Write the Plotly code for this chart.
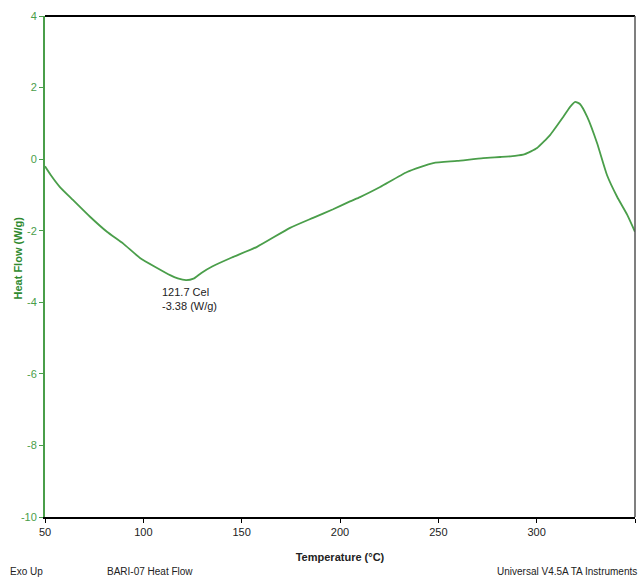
import plotly.graph_objects as go

# DSC heat-flow trace, BARI-07
temperature = [50, 53.0, 57.6, 64.2, 72.9, 81.5, 89.8, 98.3, 107.0, 113.6, 117.5, 121.7,
               125.5, 129.5, 135.0, 145.0, 157.8, 174.6, 186.3, 196.5, 205.1, 210.2, 220.4,
               234.1, 247.4, 259.5, 272.8, 281.5, 289.0, 294.0, 300.2, 306.9, 313.5,
               317.0, 319.6, 322.0, 325.7, 330.7, 335.8, 340.9, 346.0, 350.0]
heat_flow = [-0.20, -0.45, -0.78, -1.14, -1.61, -2.03, -2.36, -2.76, -3.04, -3.24, -3.33, -3.38,
             -3.34, -3.18, -3.00, -2.75, -2.45, -1.92, -1.64, -1.40, -1.18, -1.06, -0.78,
             -0.36, -0.11, -0.05, 0.03, 0.06, 0.09, 0.14, 0.31, 0.68, 1.18,
             1.46, 1.60, 1.54, 1.18, 0.45, -0.45, -1.05, -1.55, -2.03]

x_ticks = [50, 100, 150, 200, 250, 300, 350]
y_ticks = [4, 2, 0, -2, -4, -6, -8, -10]

peak_t = 121.7
peak_hf = -3.38

GREEN = "#4a9e4a"
FONT = "Liberation Sans Narrow, Arial Narrow, Liberation Sans, Arial"

fig = go.Figure()
fig.add_trace(go.Scatter(
    x=temperature, y=heat_flow, mode="lines",
    line=dict(color=GREEN, width=1.8, shape="spline", smoothing=0.5),
    hoverinfo="skip", showlegend=False,
))

fig.add_annotation(
    x=peak_t, y=peak_hf, xref="x", yref="y",
    text=f"{peak_t} Cel<br>{peak_hf} (W/g)",
    showarrow=False, xanchor="left", yanchor="top",
    xshift=-26, yshift=-4, align="left",
    font=dict(family=FONT, size=11, color="#222222"),
)

# y-axis title placed as rotated text
fig.add_annotation(
    x=0, y=0.5, xref="paper", yref="paper", xanchor="center", yanchor="middle",
    text="<b>Heat Flow (W/g)</b>", textangle=-90, showarrow=False,
    xshift=-28, yshift=8,
    font=dict(family="Liberation Sans, Arial", size=11, color="#2f8a2f"),
)

footer_font = dict(family=FONT, size=10, color="#222222")
fig.add_annotation(x=0.0, y=0.0, xref="paper", yref="paper", xanchor="left",
                   yanchor="bottom", text="Exo Up", showarrow=False, font=footer_font,
                   xshift=-37, yshift=-62)
fig.add_annotation(x=0.0, y=0.0, xref="paper", yref="paper", xanchor="left",
                   yanchor="bottom", text="BARI-07 Heat Flow", showarrow=False,
                   font=footer_font, xshift=60, yshift=-62)
fig.add_annotation(x=1.0, y=0.0, xref="paper", yref="paper", xanchor="right",
                   yanchor="bottom", text="Universal V4.5A TA Instruments",
                   showarrow=False, font=footer_font, xshift=4, yshift=-62)

# frame: black top edge, grey right edge
fig.add_shape(type="line", xref="paper", yref="paper", x0=0, x1=1, y0=1, y1=1,
              line=dict(color="black", width=2))
fig.add_shape(type="line", xref="paper", yref="paper", x0=1, x1=1, y0=0, y1=1,
              line=dict(color="#555555", width=1.5))

fig.update_xaxes(
    range=[50, 350], tickvals=x_ticks, ticktext=[str(t) for t in x_ticks],
    showgrid=False, zeroline=False, showline=True, linecolor="black", linewidth=2,
    ticks="outside", ticklen=4, tickcolor="black",
    tickfont=dict(family=FONT, size=11, color="#222222"),
    title=dict(text="<b>Temperature (°C)</b>", standoff=16,
               font=dict(family=FONT, size=11, color="#222222")),
)
fig.update_yaxes(
    range=[-10, 4], tickvals=y_ticks, ticktext=[str(t) for t in y_ticks],
    showgrid=False, zeroline=False, showline=True, linecolor=GREEN, linewidth=2,
    ticks="outside", ticklen=4, tickcolor=GREEN,
    tickfont=dict(family=FONT, size=11, color=GREEN),
)

fig.update_layout(
    width=640, height=577,
    margin=dict(l=45, r=5, t=16, b=60),
    paper_bgcolor="white", plot_bgcolor="white",
)

fig.write_html("out.html")
